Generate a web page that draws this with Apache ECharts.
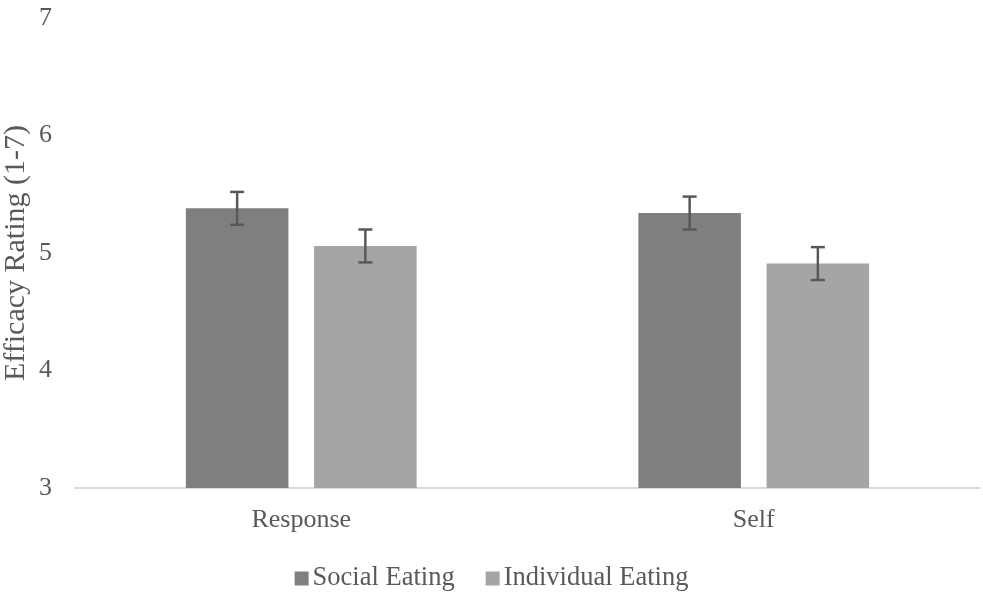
<!DOCTYPE html>
<html>
<head>
<meta charset="utf-8">
<script src="https://cdn.jsdelivr.net/npm/echarts@6/dist/echarts.min.js"></script>
<style>
  html, body { margin: 0; padding: 0; background: #fff; }
  #chart { width: 983px; height: 592px; }
</style>
</head>
<body>
<div id="chart"></div>
<script>
var categories = ['Response', 'Self'];
var seriesNames = ['Social Eating', 'Individual Eating'];
var socialMeans = [5.38, 5.34];
var socialErr = [0.14, 0.14];
var individualMeans = [5.06, 4.91];
var individualErr = [0.14, 0.14];
var colors = ['#7f7f7f', '#a5a5a5'];

var catGap = 0.49, barGap = 0.25;
var font = '"Liberation Serif", "Times New Roman", serif';

function errData(means, errs) {
    return means.map(function (m, i) { return [i, m - errs[i], m + errs[i]]; });
}

// draws one whisker per bar, shifted left or right of the category centre
function errRender(side) {
    return function (params, api) {
        var band = api.size([1, 0])[0];
        var bw = band * (1 - catGap) / (2 + barGap);
        var off = side * bw * (1 + barGap) / 2;
        var lo = api.coord([api.value(0), api.value(1)]);
        var hi = api.coord([api.value(0), api.value(2)]);
        var x = lo[0] + off;
        var cap = 7;
        var st = { stroke: '#595959', lineWidth: 2.5 };
        return {
            type: 'group',
            children: [
                { type: 'line', shape: { x1: x, y1: hi[1], x2: x, y2: lo[1] }, style: st },
                { type: 'line', shape: { x1: x - cap, y1: hi[1], x2: x + cap, y2: hi[1] }, style: st },
                { type: 'line', shape: { x1: x - cap, y1: lo[1], x2: x + cap, y2: lo[1] }, style: st }
            ]
        };
    };
}

var chart = echarts.init(document.getElementById('chart'));
var option = {
    animation: false,
    textStyle: { fontFamily: font },
    grid: { left: 75, right: 3, top: 18, bottom: 104, outerBoundsMode: 'none', containLabel: false },
    legend: {
        bottom: -5,
        left: 'center',
        itemWidth: 14,
        itemHeight: 14,
        itemGap: 31,
        icon: 'rect',
        textStyle: { fontFamily: font, fontSize: 26.5, color: '#595959', padding: [0, 0, 0, -1] },
        data: seriesNames
    },
    xAxis: {
        type: 'category',
        data: categories,
        axisLine: { lineStyle: { color: '#d9d9d9', width: 2 } },
        axisTick: { show: false },
        axisLabel: { fontFamily: font, fontSize: 26, color: '#595959', margin: 19 }
    },
    yAxis: {
        type: 'value',
        min: 3,
        max: 7,
        interval: 1,
        name: 'Efficacy Rating (1-7)',
        nameLocation: 'middle',
        nameGap: 44,
        nameMoveOverlap: false,
        nameTextStyle: { fontFamily: font, fontSize: 30, color: '#595959' },
        axisLine: { show: false },
        axisTick: { show: false },
        splitLine: { show: false },
        axisLabel: { fontFamily: font, fontSize: 26, color: '#595959', margin: 23 }
    },
    series: [
        {
            name: seriesNames[0],
            type: 'bar',
            data: socialMeans,
            itemStyle: { color: colors[0] },
            barGap: (barGap * 100) + '%',
            barCategoryGap: (catGap * 100) + '%'
        },
        {
            name: seriesNames[1],
            type: 'bar',
            data: individualMeans,
            itemStyle: { color: colors[1] }
        },
        {
            type: 'custom',
            data: errData(socialMeans, socialErr),
            renderItem: errRender(-1),
            encode: { x: 0, y: [1, 2] },
            z: 10
        },
        {
            type: 'custom',
            data: errData(individualMeans, individualErr),
            renderItem: errRender(1),
            encode: { x: 0, y: [1, 2] },
            z: 10
        }
    ]
};
chart.setOption(option);
</script>
</body>
</html>
